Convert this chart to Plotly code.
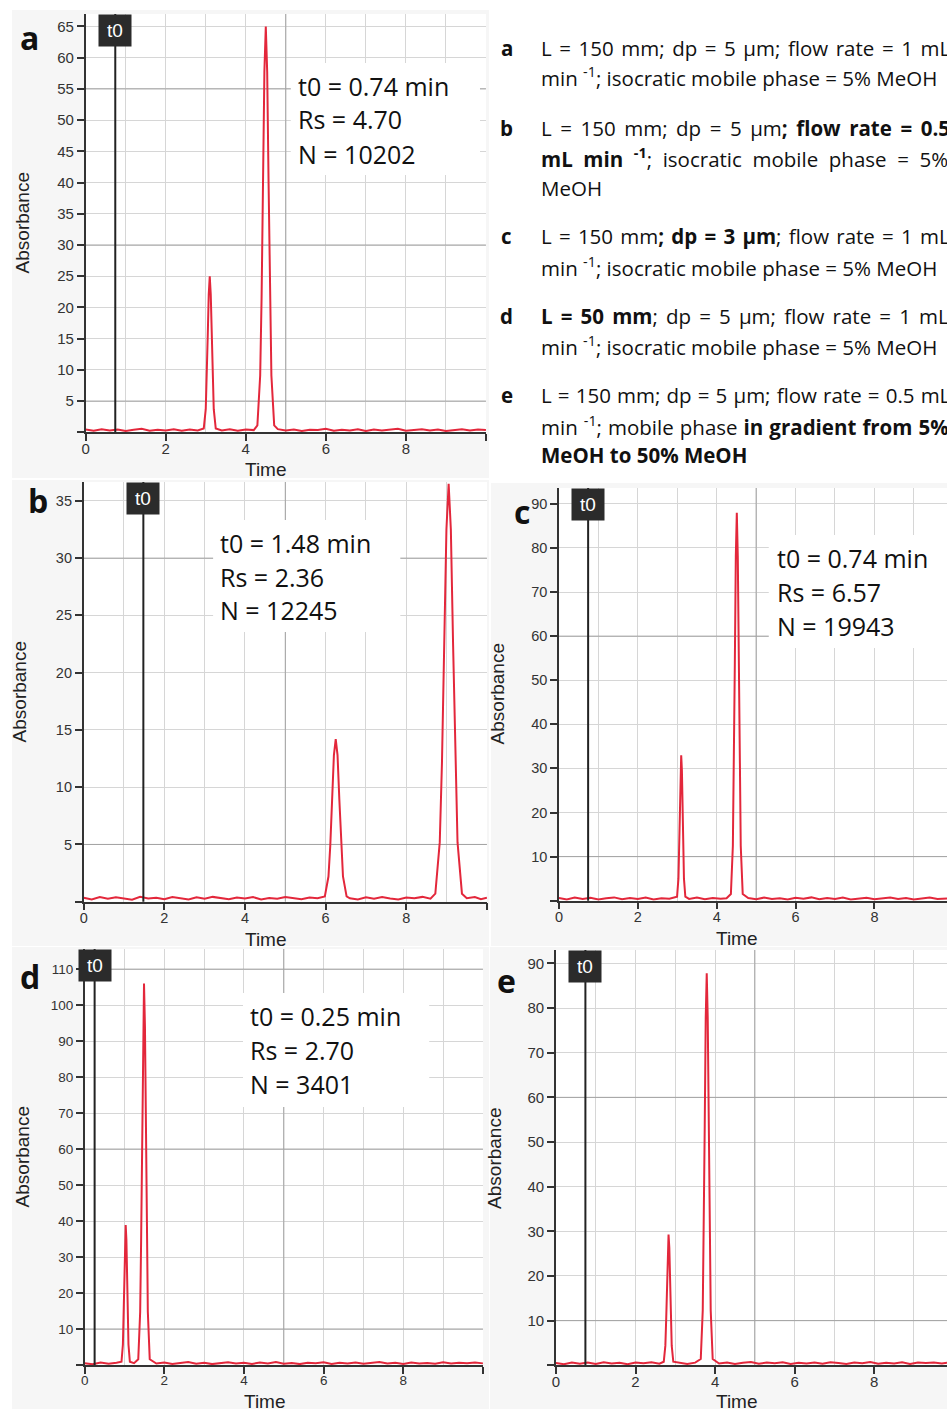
import plotly.graph_objects as go

W, H = 947, 1409

# ---------------- data ----------------
# panel a
time_a = [0.0, 0.2, 0.4, 0.6, 0.8, 1.0, 1.2, 1.4, 1.6, 1.8, 2.0, 2.2, 2.4, 2.6, 2.8,
          2.95, 3.00, 3.025, 3.05, 3.075, 3.10, 3.125, 3.15, 3.175, 3.20, 3.25,
          3.4, 3.6, 3.8, 4.0, 4.2,
          4.29, 4.36, 4.395, 4.43, 4.465, 4.50, 4.535, 4.57, 4.605, 4.64, 4.71,
          4.8, 5.0, 5.2, 5.4, 5.6, 5.8, 6.0, 6.2, 6.4, 6.6, 6.8, 7.0, 7.2, 7.4, 7.6, 7.8,
          8.0, 8.2, 8.4, 8.6, 8.8, 9.0, 9.2, 9.4, 9.6, 9.8, 10.0]
abs_a = [0.45, 0.25, 0.5, 0.3, 0.45, 0.2, 0.4, 0.55, 0.25, 0.4, 0.3, 0.5, 0.25, 0.45, 0.3,
         0.6, 3.7, 8.5, 15.5, 22.1, 25.0, 22.1, 15.5, 8.5, 3.7, 0.6,
         0.3, 0.5, 0.25, 0.45, 0.35,
         1.1, 9.1, 21.5, 39.8, 57.7, 65.0, 57.7, 39.8, 21.5, 9.1, 1.1,
         0.5, 0.3, 0.45, 0.2, 0.4, 0.35, 0.55, 0.25, 0.4, 0.3, 0.5, 0.2, 0.45, 0.3, 0.4, 0.55,
         0.25, 0.35, 0.5, 0.3, 0.45, 0.2, 0.4, 0.5, 0.3, 0.45, 0.35]

# panel b
time_b = [0.0, 0.2, 0.4, 0.6, 0.8, 1.0, 1.2, 1.4, 1.6, 1.8, 2.0, 2.2, 2.4, 2.6, 2.8,
          3.0, 3.2, 3.4, 3.6, 3.8, 4.0, 4.2, 4.4, 4.6, 4.8, 5.0, 5.2, 5.4, 5.6, 5.8,
          5.98, 6.07, 6.115, 6.16, 6.205, 6.25, 6.295, 6.34, 6.385, 6.43, 6.52,
          6.6, 6.8, 7.0, 7.2, 7.4, 7.6, 7.8, 8.0, 8.2, 8.4, 8.6,
          8.72, 8.83, 8.885, 8.94, 8.995, 9.05, 9.105, 9.16, 9.215, 9.27, 9.38,
          9.5, 9.7, 9.85, 10.0]
abs_b = [0.35, 0.2, 0.4, 0.25, 0.38, 0.3, 0.18, 0.42, 0.28, 0.35, 0.22, 0.4, 0.3, 0.2, 0.38,
         0.26, 0.42, 0.3, 0.22, 0.36, 0.28, 0.4, 0.2, 0.33, 0.25, 0.4, 0.3, 0.22, 0.37, 0.3,
         0.46, 2.2, 4.9, 8.9, 12.8, 14.2, 12.8, 8.9, 4.9, 2.2, 0.46,
         0.3, 0.2, 0.38, 0.25, 0.4, 0.28, 0.2, 0.36, 0.3, 0.42, 0.26,
         0.7, 5.2, 12.2, 22.5, 32.5, 36.5, 32.5, 22.5, 12.2, 5.2, 0.7,
         0.3, 0.4, 0.22, 0.35]

# panel c
time_c = [0.0, 0.2, 0.4, 0.6, 0.8, 1.0, 1.2, 1.4, 1.6, 1.8, 2.0, 2.2, 2.4, 2.6, 2.8,
          2.995, 3.03, 3.048, 3.065, 3.083, 3.10, 3.118, 3.135, 3.153, 3.17, 3.205,
          3.3, 3.5, 3.7, 3.9, 4.1, 4.25,
          4.36, 4.41, 4.435, 4.46, 4.485, 4.51, 4.535, 4.56, 4.585, 4.61, 4.66,
          4.8, 5.0, 5.2, 5.4, 5.6, 5.8, 6.0, 6.2, 6.4, 6.6, 6.8, 7.0, 7.2, 7.4, 7.6, 7.8,
          8.0, 8.2, 8.4, 8.6, 8.8, 9.0, 9.2, 9.4, 9.6, 9.8, 9.84]
abs_c = [0.6, 0.3, 0.7, 0.4, 0.65, 0.3, 0.55, 0.75, 0.35, 0.6, 0.4, 0.7, 0.3, 0.55, 0.45,
         0.9, 5.0, 11.2, 20.5, 29.6, 33.0, 29.6, 20.5, 11.2, 5.0, 0.9,
         0.4, 0.7, 0.35, 0.6, 0.45, 0.55,
         1.5, 12.4, 29.1, 53.9, 78.1, 88.0, 78.1, 53.9, 29.1, 12.4, 1.5,
         0.6, 0.35, 0.7, 0.4, 0.55, 0.3, 0.65, 0.45, 0.75, 0.35, 0.6, 0.4, 0.7, 0.3, 0.55, 0.65,
         0.35, 0.5, 0.7, 0.4, 0.6, 0.3, 0.55, 0.7, 0.4, 0.6, 0.5]

# panel d
time_d = [0.0, 0.2, 0.4, 0.6, 0.8,
          0.925, 0.96, 0.978, 0.995, 1.013, 1.03, 1.048, 1.065, 1.083, 1.10, 1.135,
          1.24,
          1.346, 1.394, 1.418, 1.442, 1.466, 1.49, 1.514, 1.538, 1.562, 1.586, 1.634,
          1.8, 2.0, 2.2, 2.4, 2.6, 2.8, 3.0, 3.2, 3.4, 3.6, 3.8, 4.0, 4.2, 4.4, 4.6, 4.8,
          5.0, 5.2, 5.4, 5.6, 5.8, 6.0, 6.2, 6.4, 6.6, 6.8, 7.0, 7.2, 7.4, 7.6, 7.8,
          8.0, 8.2, 8.4, 8.6, 8.8, 9.0, 9.2, 9.4, 9.6, 9.8, 10.0]
abs_d = [0.5, 0.2, 0.7, 0.35, 0.6,
         0.9, 5.7, 13.1, 24.1, 34.8, 38.9, 34.8, 24.1, 13.1, 5.7, 0.9,
         0.5,
         1.6, 14.8, 34.9, 64.8, 93.9, 106.0, 93.9, 64.8, 34.9, 14.8, 1.6,
         0.4, 0.7, 0.3, 0.55, 0.8, 0.35, 0.6, 0.25, 0.5, 0.75, 0.4, 0.6, 0.3, 0.7, 0.45, 0.8,
         0.35, 0.55, 0.25, 0.65, 0.5, 0.75, 0.3, 0.6, 0.4, 0.7, 0.35, 0.55, 0.8, 0.4, 0.6,
         0.3, 0.7, 0.45, 0.55, 0.35, 0.75, 0.4, 0.6, 0.5, 0.7, 0.45]

# panel e
time_e = [0.0, 0.2, 0.4, 0.6, 0.8, 1.0, 1.2, 1.4, 1.6, 1.8, 2.0, 2.2, 2.4, 2.6,
          2.71, 2.75, 2.77, 2.79, 2.81, 2.83, 2.85, 2.87, 2.89, 2.91, 2.95,
          3.1, 3.3, 3.5,
          3.64, 3.69, 3.715, 3.74, 3.765, 3.79, 3.815, 3.84, 3.865, 3.89, 3.94,
          4.1, 4.3, 4.5, 4.7, 4.9, 5.1, 5.3, 5.5, 5.7, 5.9, 6.1, 6.3, 6.5, 6.7, 6.9,
          7.1, 7.3, 7.5, 7.7, 7.9, 8.1, 8.3, 8.5, 8.7, 8.9, 9.1, 9.3, 9.5, 9.7, 9.83]
abs_e = [0.5, 0.25, 0.65, 0.35, 0.6, 0.3, 0.7, 0.4, 0.55, 0.25, 0.6, 0.45, 0.7, 0.35,
         0.8, 4.4, 10.0, 18.2, 26.3, 29.3, 26.3, 18.2, 10.0, 4.4, 0.8,
         0.55, 0.3, 0.6,
         1.4, 12.3, 29.0, 53.7, 77.9, 87.8, 77.9, 53.7, 29.0, 12.3, 1.4,
         0.4, 0.65, 0.3, 0.55, 0.75, 0.35, 0.6, 0.45, 0.7, 0.3, 0.55, 0.4, 0.65, 0.35, 0.7,
         0.5, 0.3, 0.6, 0.45, 0.75, 0.35, 0.55, 0.4, 0.7, 0.3, 0.6, 0.5, 0.65, 0.4, 0.55]

panel_keys = ["a", "b", "c", "d", "e"]
t0_min = [0.74, 1.48, 0.74, 0.25, 0.74]
t0_text = ["t0 = 0.74 min", "t0 = 1.48 min", "t0 = 0.74 min", "t0 = 0.25 min", None]
rs_text = ["Rs = 4.70", "Rs = 2.36", "Rs = 6.57", "Rs = 2.70", None]
n_text = ["N = 10202", "N = 12245", "N = 19943", "N = 3401", None]
x_tick_vals = [0, 2, 4, 6, 8, 10]
x_tick_text = ["0", "2", "4", "6", "8", ""]

# description block: (letter, text, extra word gap in px for justified lines)
desc_lines = [
    ("a", "L = 150 mm; dp = 5 µm; flow rate = 1 mL", 2.2),
    (None, "min <sup>-1</sup>; isocratic mobile phase = 5% MeOH", 0),
    ("b", "L = 150 mm; dp = 5 µm<b>; flow rate = 0.5</b>", 3.2),
    (None, "<b>mL min <sup>-1</sup></b>; isocratic mobile phase = 5%", 5.3),
    (None, "MeOH", 0),
    ("c", "L = 150 mm<b>; dp = 3 µm</b>; flow rate = 1 mL", 1.9),
    (None, "min <sup>-1</sup>; isocratic mobile phase = 5% MeOH", 0),
    ("d", "<b>L = 50 mm</b>; dp = 5 µm; flow rate = 1 mL", 2.8),
    (None, "min <sup>-1</sup>; isocratic mobile phase = 5% MeOH", 0),
    ("e", "L = 150 mm; dp = 5 µm; flow rate = 0.5 mL", 0.8),
    (None, "min <sup>-1</sup>; mobile phase <b>in gradient from 5%</b>", 0.7),
    (None, "<b>MeOH to 50% MeOH</b>", 0),
]
desc_y = [48, 77.5, 128, 158, 188, 236.5, 267, 315.5, 345.5, 394.5, 425.5, 455.5]

times = [time_a, time_b, time_c, time_d, time_e]
absv = [abs_a, abs_b, abs_c, abs_d, abs_e]
for t, y in zip(times, absv):
    assert len(t) == len(y), (len(t), len(y))

# ---------------- layout (pixel geometry) ----------------
panels = [
    dict(px=(82, 484), py=(14, 432.3), xmax=10, ymax=67.0, ystep=5, ytop=65, dark=[5, 30, 55],
         bg=(8, 10, 487, 478), label=(26, 37), box=(288, 63, 478, 175), tx=293, ty=[85.5, 119.5, 153.5],
         time=(263, 469), absb=(18.5, 223), tick=15),
    dict(px=(80, 485), py=(482, 901.7), xmax=10, ymax=36.65, ystep=5, ytop=35, dark=[5, 30],
         bg=(8, 480, 487, 946), label=(34, 500), box=(210, 520, 398, 632), tx=215, ty=[542.5, 576.5, 610.5],
         time=(263, 939), absb=(16.5, 692), tick=14.5),
    dict(px=(557.3, 947), py=(488, 900.7), xmax=9.84, ymax=93.6, ystep=10, ytop=90, dark=[10, 60],
         bg=(489, 483, 947, 946), label=(520, 511), box=(768, 535, 947, 648), tx=774, ty=[558, 592, 626],
         time=(736, 938), absb=(495.5, 694), tick=14.5),
    dict(px=(81, 481), py=(949, 1365), xmax=10, ymax=115.6, ystep=10, ytop=110, dark=[10, 60, 110],
         bg=(8, 947, 487, 1409), label=(26, 976), box=(240, 993, 427, 1107), tx=245, ty=[1016, 1050, 1084],
         time=(262, 1401), absb=(18.5, 1157), tick=13.5),
    dict(px=(554.3, 947), py=(950, 1365.3), xmax=9.83, ymax=93.0, ystep=10, ytop=90, dark=[10, 60],
         bg=(488, 947, 947, 1409), label=(505, 980), box=None, tx=None, ty=None,
         time=(736, 1401), absb=(492, 1158), tick=15),
]

RED = "#e3273b"
AXIS = "#333333"
GRID = "#d6d6d6"
DARK = "#a2a2a2"
PANEL_BG = "#f6f6f6"
CAL = "Open Sans, Lato, sans-serif"
ARIAL = "Liberation Sans, Arial, sans-serif"
DESC_SIZE = 20.5
NBSP_EM = 0.26  # width of a no-break space in Open Sans (em)


def X(p):
    return p / W


def Y(p):
    return 1 - p / H


def justify(text, extra_px):
    """Widen every word gap by extra_px using a tiny no-break space (emulates justified text)."""
    if extra_px <= 0:
        return text
    fs = extra_px / NBSP_EM
    return text.replace(" ", ' <span style="font-size:%.1fpx">\u00a0</span>' % fs)


fig = go.Figure()
shapes = []
annotations = []

# gray panel backgrounds
for P in panels:
    x0, y0, x1, y1 = P["bg"]
    shapes.append(dict(type="rect", xref="paper", yref="paper", x0=X(x0), x1=X(x1), y0=Y(y1), y1=Y(y0),
                       fillcolor=PANEL_BG, line=dict(width=0), layer="below"))

layout_axes = {}
for i, P in enumerate(panels):
    n = i + 1
    xs = "" if n == 1 else str(n)
    xname, yname = "x" + xs, "y" + xs

    # white plot area
    shapes.append(dict(type="rect", xref=xname + " domain", yref=yname + " domain", x0=0, x1=1, y0=0, y1=1,
                       fillcolor="white", line=dict(width=0), layer="below"))

    # darker grid lines (every fifth grid line), drawn as thin traces under the data
    fig.add_trace(go.Scatter(x=[5, 5], y=[0, P["ymax"]], mode="lines", line=dict(color=DARK, width=1),
                             xaxis=xname, yaxis=yname, showlegend=False, hoverinfo="skip"))
    for dv in P["dark"]:
        fig.add_trace(go.Scatter(x=[0, P["xmax"]], y=[dv, dv], mode="lines", line=dict(color=DARK, width=1),
                                 xaxis=xname, yaxis=yname, showlegend=False, hoverinfo="skip"))

    # chromatogram
    fig.add_trace(go.Scatter(x=times[i], y=absv[i], mode="lines", line=dict(color=RED, width=2),
                             xaxis=xname, yaxis=yname, showlegend=False, hoverinfo="skip"))

    yvals = list(range(0, P["ytop"] + 1, P["ystep"]))
    ytext = [""] + [str(v) for v in yvals[1:]]
    tickfont = dict(family=ARIAL, size=P["tick"], color="#333")
    layout_axes["xaxis" + xs] = dict(
        domain=[X(P["px"][0]), X(P["px"][1])], range=[0, P["xmax"]], anchor=yname,
        showline=True, linecolor=AXIS, linewidth=1.5, ticks="outside", ticklen=7, tickwidth=1.5,
        tickcolor=AXIS, tickmode="array", tickvals=x_tick_vals, ticktext=x_tick_text,
        ticklabelstandoff=-5,
        showgrid=True, gridcolor=GRID, gridwidth=1, zeroline=False, tickfont=tickfont,
        minor=dict(tickmode="linear", tick0=0, dtick=1, showgrid=True, gridcolor=GRID, ticks=""),
        fixedrange=True)
    layout_axes["yaxis" + xs] = dict(
        domain=[Y(P["py"][1]), Y(P["py"][0])], range=[0, P["ymax"]], anchor=xname,
        showline=True, linecolor=AXIS, linewidth=1.5, ticks="outside", ticklen=7, tickwidth=1.5,
        tickcolor=AXIS, tickmode="array", tickvals=yvals, ticktext=ytext,
        showgrid=True, gridcolor=GRID, gridwidth=1, zeroline=False, tickfont=tickfont,
        fixedrange=True)

    # t0 marker line and label
    shapes.append(dict(type="line", xref=xname, yref=yname + " domain", x0=t0_min[i], x1=t0_min[i],
                       y0=0, y1=1, line=dict(color="#222222", width=2), layer="above"))
    annotations.append(dict(x=t0_min[i], y=1, xref=xname, yref=yname + " domain", text="t0",
                            showarrow=False, xanchor="center", yanchor="top", bgcolor="#2b2b2b",
                            font=dict(family=ARIAL, size=19, color="white"), width=30, height=29,
                            borderpad=1))

    # info box
    if P["box"] is not None:
        bx0, by0, bx1, by1 = P["box"]
        shapes.append(dict(type="rect", xref="paper", yref="paper", x0=X(bx0), x1=X(bx1), y0=Y(by1),
                           y1=Y(by0), fillcolor="white", line=dict(width=0), layer="above"))
        for txt, yy in zip([t0_text[i], rs_text[i], n_text[i]], P["ty"]):
            annotations.append(dict(x=X(P["tx"]), y=Y(yy), xref="paper", yref="paper", text=txt,
                                    showarrow=False, xanchor="left", yanchor="middle",
                                    font=dict(family=CAL, size=25, color="#111")))

    # panel letter
    annotations.append(dict(x=X(P["label"][0]), y=Y(P["label"][1]), xref="paper", yref="paper",
                            text="<b>" + panel_keys[i] + "</b>", showarrow=False, xanchor="center",
                            yanchor="middle", font=dict(family=CAL, size=32, color="#111")))
    # axis titles
    annotations.append(dict(x=X(P["time"][0]), y=Y(P["time"][1]), xref="paper", yref="paper",
                            text="Time", showarrow=False, xanchor="center", yanchor="middle",
                            font=dict(family=ARIAL, size=19, color="#222")))
    annotations.append(dict(x=X(P["absb"][0]), y=Y(P["absb"][1]), xref="paper", yref="paper",
                            text="Absorbance", showarrow=False, xanchor="center", yanchor="middle",
                            textangle=-90, font=dict(family=ARIAL, size=19, color="#222")))

# description text block (top right)
for (lab, txt, extra), yy in zip(desc_lines, desc_y):
    if lab:
        annotations.append(dict(x=X(505), y=Y(yy), xref="paper", yref="paper", text="<b>" + lab + "</b>",
                                showarrow=False, xanchor="center", yanchor="middle",
                                font=dict(family=CAL, size=DESC_SIZE, color="#111")))
    annotations.append(dict(x=X(537.5), y=Y(yy), xref="paper", yref="paper", text=justify(txt, extra),
                            showarrow=False, xanchor="left", yanchor="middle",
                            font=dict(family=CAL, size=DESC_SIZE, color="#111")))

fig.update_layout(width=W, height=H, margin=dict(l=0, r=0, t=0, b=0), paper_bgcolor="white",
                  plot_bgcolor="white", showlegend=False, shapes=shapes, annotations=annotations,
                  **layout_axes)

fig.write_html("out.html", config={"displayModeBar": False},
               post_script="document.body.style.margin='0';document.body.style.overflow='hidden';")
